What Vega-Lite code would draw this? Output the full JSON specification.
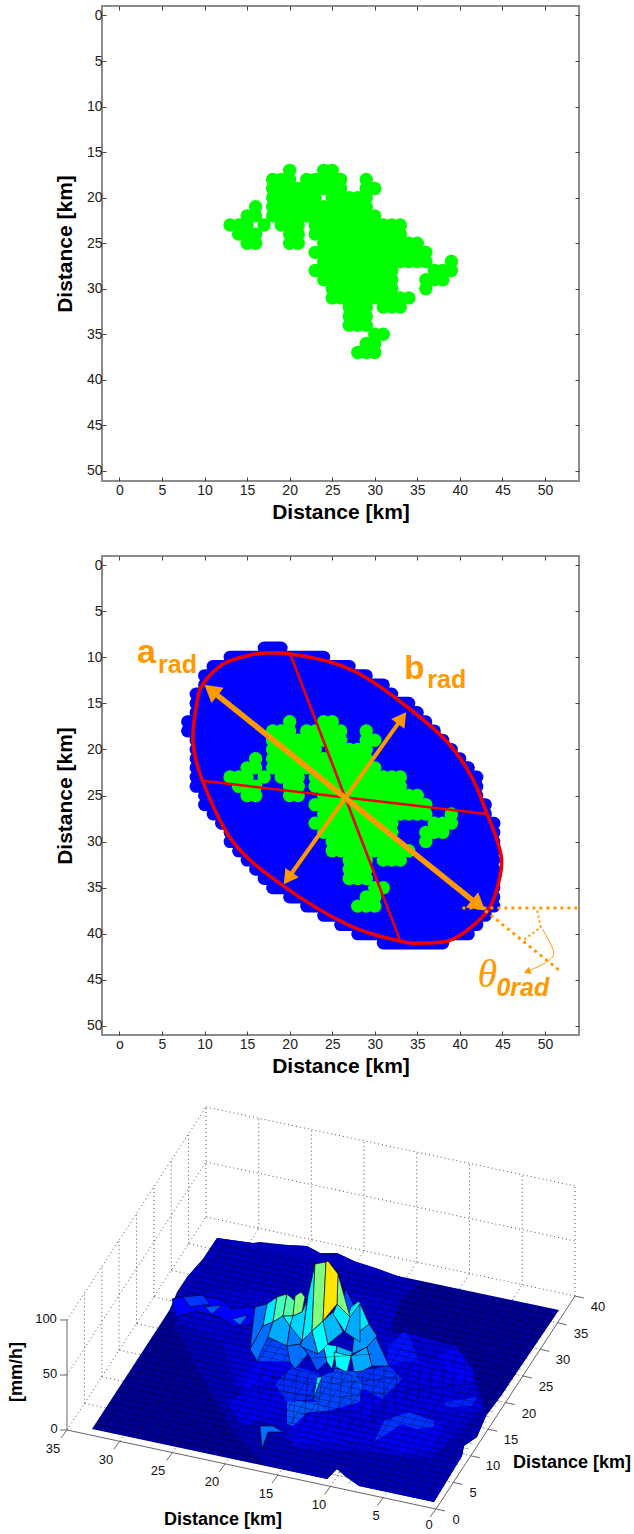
{
"$schema":"https://vega.github.io/schema/vega-lite/v6.json",
"background":"white",
"padding":{"left":0,"right":0,"top":4,"bottom":0},
"config":{"view":{"stroke":"#8c8c8c","strokeWidth":2},"font":"Liberation Sans"},
"datasets":{
"green":[
{"x":20,"y":17},{"x":24,"y":17},{"x":25,"y":17},
{"x":18,"y":18},{"x":19,"y":18},{"x":20,"y":18},{"x":22,"y":18},{"x":23,"y":18},{"x":24,"y":18},{"x":25,"y":18},{"x":26,"y":18},{"x":29,"y":18},
{"x":18,"y":19},{"x":19,"y":19},{"x":20,"y":19},{"x":21,"y":19},{"x":22,"y":19},{"x":23,"y":19},{"x":24,"y":19},{"x":25,"y":19},{"x":26,"y":19},{"x":29,"y":19},{"x":30,"y":19},
{"x":18,"y":20},{"x":19,"y":20},{"x":20,"y":20},{"x":21,"y":20},{"x":22,"y":20},{"x":23,"y":20},{"x":25,"y":20},{"x":26,"y":20},{"x":27,"y":20},{"x":28,"y":20},{"x":29,"y":20},
{"x":16,"y":21},{"x":18,"y":21},{"x":19,"y":21},{"x":20,"y":21},{"x":21,"y":21},{"x":22,"y":21},{"x":23,"y":21},{"x":24,"y":21},{"x":25,"y":21},{"x":26,"y":21},{"x":27,"y":21},{"x":28,"y":21},{"x":29,"y":21},
{"x":15,"y":22},{"x":16,"y":22},{"x":18,"y":22},{"x":19,"y":22},{"x":20,"y":22},{"x":21,"y":22},{"x":22,"y":22},{"x":23,"y":22},{"x":24,"y":22},{"x":25,"y":22},{"x":26,"y":22},{"x":27,"y":22},{"x":28,"y":22},{"x":29,"y":22},{"x":30,"y":22},
{"x":13,"y":23},{"x":14,"y":23},{"x":15,"y":23},{"x":17,"y":23},{"x":19,"y":23},{"x":20,"y":23},{"x":21,"y":23},{"x":23,"y":23},{"x":24,"y":23},{"x":25,"y":23},{"x":26,"y":23},{"x":27,"y":23},{"x":28,"y":23},{"x":29,"y":23},{"x":30,"y":23},{"x":31,"y":23},{"x":32,"y":23},{"x":33,"y":23},
{"x":14,"y":24},{"x":15,"y":24},{"x":16,"y":24},{"x":20,"y":24},{"x":21,"y":24},{"x":23,"y":24},{"x":24,"y":24},{"x":25,"y":24},{"x":26,"y":24},{"x":27,"y":24},{"x":28,"y":24},{"x":29,"y":24},{"x":30,"y":24},{"x":31,"y":24},{"x":32,"y":24},{"x":33,"y":24},
{"x":15,"y":25},{"x":16,"y":25},{"x":20,"y":25},{"x":21,"y":25},{"x":24,"y":25},{"x":25,"y":25},{"x":26,"y":25},{"x":27,"y":25},{"x":28,"y":25},{"x":29,"y":25},{"x":30,"y":25},{"x":31,"y":25},{"x":32,"y":25},{"x":33,"y":25},{"x":34,"y":25},{"x":35,"y":25},
{"x":23,"y":26},{"x":24,"y":26},{"x":25,"y":26},{"x":26,"y":26},{"x":27,"y":26},{"x":28,"y":26},{"x":29,"y":26},{"x":30,"y":26},{"x":31,"y":26},{"x":32,"y":26},{"x":33,"y":26},{"x":34,"y":26},{"x":35,"y":26},{"x":36,"y":26},
{"x":24,"y":27},{"x":25,"y":27},{"x":26,"y":27},{"x":27,"y":27},{"x":28,"y":27},{"x":29,"y":27},{"x":30,"y":27},{"x":31,"y":27},{"x":32,"y":27},{"x":33,"y":27},{"x":34,"y":27},{"x":35,"y":27},{"x":36,"y":27},{"x":39,"y":27},
{"x":23,"y":28},{"x":24,"y":28},{"x":25,"y":28},{"x":26,"y":28},{"x":27,"y":28},{"x":28,"y":28},{"x":29,"y":28},{"x":30,"y":28},{"x":31,"y":28},{"x":32,"y":28},{"x":37,"y":28},{"x":38,"y":28},{"x":39,"y":28},
{"x":24,"y":29},{"x":25,"y":29},{"x":26,"y":29},{"x":27,"y":29},{"x":28,"y":29},{"x":29,"y":29},{"x":30,"y":29},{"x":31,"y":29},{"x":32,"y":29},{"x":36,"y":29},{"x":37,"y":29},{"x":38,"y":29},
{"x":25,"y":30},{"x":26,"y":30},{"x":27,"y":30},{"x":28,"y":30},{"x":29,"y":30},{"x":30,"y":30},{"x":31,"y":30},{"x":32,"y":30},{"x":36,"y":30},
{"x":25,"y":31},{"x":26,"y":31},{"x":27,"y":31},{"x":28,"y":31},{"x":29,"y":31},{"x":30,"y":31},{"x":31,"y":31},{"x":32,"y":31},{"x":33,"y":31},{"x":34,"y":31},
{"x":27,"y":32},{"x":28,"y":32},{"x":29,"y":32},{"x":31,"y":32},{"x":32,"y":32},{"x":33,"y":32},
{"x":27,"y":33},{"x":28,"y":33},{"x":29,"y":33},
{"x":27,"y":34},{"x":28,"y":34},{"x":29,"y":34},
{"x":30,"y":35},{"x":31,"y":35},
{"x":29,"y":36},{"x":30,"y":36},
{"x":28,"y":37},{"x":29,"y":37},{"x":30,"y":37}
],
"grid3d":[
{"x":383.3,"y":1498.7,"x2":522.3,"y2":1285.7},{"x":330.6,"y":1487.4,"x2":469.6,"y2":1274.4},{"x":277.9,"y":1476.1,"x2":416.9,"y2":1263.1},{"x":225.2,"y":1464.8,"x2":364.2,"y2":1251.8},{"x":172.5,"y":1453.5,"x2":311.5,"y2":1240.5},{"x":119.8,"y":1442.2,"x2":258.8,"y2":1229.2},{"x":67,"y":1431,"x2":206,"y2":1218},
{"x":453.4,"y":1483.4,"x2":84.4,"y2":1404.4},{"x":470.8,"y":1456.8,"x2":101.8,"y2":1377.8},{"x":488.2,"y":1430.2,"x2":119.2,"y2":1351.2},{"x":505.6,"y":1403.6,"x2":136.6,"y2":1324.6},{"x":523,"y":1377,"x2":154,"y2":1298},{"x":540.4,"y":1350.4,"x2":171.4,"y2":1271.4},{"x":557.8,"y":1323.8,"x2":188.8,"y2":1244.8},{"x":575,"y":1297,"x2":206,"y2":1218},
{"x":206,"y":1218,"x2":206,"y2":1108},{"x":258.7,"y":1229.3,"x2":258.7,"y2":1119.3},{"x":311.4,"y":1240.6,"x2":311.4,"y2":1130.6},{"x":364.1,"y":1251.9,"x2":364.1,"y2":1141.9},{"x":416.8,"y":1263.2,"x2":416.8,"y2":1153.2},{"x":469.5,"y":1274.5,"x2":469.5,"y2":1164.5},{"x":522.2,"y":1285.8,"x2":522.2,"y2":1175.8},{"x":575,"y":1297,"x2":575,"y2":1187},
{"x":206,"y":1163,"x2":575,"y2":1242},{"x":206,"y":1108,"x2":575,"y2":1187},
{"x":84.4,"y":1404.4,"x2":84.4,"y2":1294.4},{"x":101.8,"y":1377.8,"x2":101.8,"y2":1267.8},{"x":119.1,"y":1351.2,"x2":119.1,"y2":1241.2},{"x":136.5,"y":1324.6,"x2":136.5,"y2":1214.6},{"x":153.9,"y":1298,"x2":153.9,"y2":1188},{"x":171.3,"y":1271.4,"x2":171.3,"y2":1161.4},{"x":188.6,"y":1244.8,"x2":188.6,"y2":1134.8},
{"x":67,"y":1376,"x2":206,"y2":1163},{"x":67,"y":1321,"x2":206,"y2":1108}
],
"axes3d":[
{"x":67,"y":1431,"x2":436,"y2":1510},{"x":436,"y":1510,"x2":575,"y2":1297},{"x":67,"y":1431,"x2":67,"y2":1321},
{"x":436,"y":1510,"x2":430,"y2":1518},{"x":383.3,"y":1498.7,"x2":377.3,"y2":1506.7},{"x":330.6,"y":1487.4,"x2":324.6,"y2":1495.4},{"x":277.9,"y":1476.1,"x2":271.9,"y2":1484.1},{"x":225.2,"y":1464.8,"x2":219.2,"y2":1472.8},{"x":172.5,"y":1453.5,"x2":166.5,"y2":1461.5},{"x":119.8,"y":1442.2,"x2":113.8,"y2":1450.2},{"x":67,"y":1431,"x2":61,"y2":1439},
{"x":436,"y":1510,"x2":445,"y2":1512},{"x":453.4,"y":1483.4,"x2":462.4,"y2":1485.4},{"x":470.8,"y":1456.8,"x2":479.8,"y2":1458.8},{"x":488.2,"y":1430.2,"x2":497.2,"y2":1432.2},{"x":505.6,"y":1403.6,"x2":514.6,"y2":1405.6},{"x":523,"y":1377,"x2":532,"y2":1379},{"x":540.4,"y":1350.4,"x2":549.4,"y2":1352.4},{"x":557.8,"y":1323.8,"x2":566.8,"y2":1325.8},{"x":575,"y":1297,"x2":584,"y2":1299},
{"x":67,"y":1431,"x2":60,"y2":1431},{"x":67,"y":1376,"x2":60,"y2":1376},{"x":67,"y":1321,"x2":60,"y2":1321}
],
"mesh":[
{"x":102.7,"y":1432.3,"x2":227.7,"y2":1241.3},{"x":113.4,"y":1434.6,"x2":238.4,"y2":1243.6},{"x":124.1,"y":1436.8,"x2":249.1,"y2":1245.8},{"x":134.8,"y":1439.1,"x2":259.8,"y2":1248.1},{"x":145.4,"y":1441.4,"x2":270.4,"y2":1250.4},{"x":156.1,"y":1443.7,"x2":281.1,"y2":1252.7},{"x":166.8,"y":1446,"x2":291.8,"y2":1255},{"x":177.5,"y":1448.2,"x2":302.5,"y2":1257.2},{"x":188.2,"y":1450.5,"x2":313.2,"y2":1259.5},{"x":198.9,"y":1452.8,"x2":323.9,"y2":1261.8},{"x":209.6,"y":1455.1,"x2":334.6,"y2":1264.1},{"x":220.3,"y":1457.4,"x2":345.3,"y2":1266.4},{"x":231,"y":1459.6,"x2":356,"y2":1268.6},{"x":241.7,"y":1461.9,"x2":366.7,"y2":1270.9},{"x":252.3,"y":1464.2,"x2":377.3,"y2":1273.2},{"x":263,"y":1466.5,"x2":388,"y2":1275.5},{"x":273.7,"y":1468.8,"x2":398.7,"y2":1277.8},{"x":284.4,"y":1471,"x2":409.4,"y2":1280},{"x":295.1,"y":1473.3,"x2":420.1,"y2":1282.3},{"x":305.8,"y":1475.6,"x2":430.8,"y2":1284.6},{"x":316.5,"y":1477.9,"x2":441.5,"y2":1286.9},{"x":327.2,"y":1480.2,"x2":452.2,"y2":1289.2},{"x":369.9,"y":1489.3,"x2":494.9,"y2":1298.3},{"x":380.6,"y":1491.6,"x2":505.6,"y2":1300.6},{"x":391.3,"y":1493.8,"x2":516.3,"y2":1302.8},{"x":402,"y":1496.1,"x2":527,"y2":1305.1},{"x":412.7,"y":1498.4,"x2":537.7,"y2":1307.4},{"x":423.4,"y":1500.7,"x2":548.4,"y2":1309.7},{"x":359.2,"y":1487,"x2":484.2,"y2":1296},{"x":348.6,"y":1484.7,"x2":473.6,"y2":1293.7},{"x":337.9,"y":1475,"x2":462.9,"y2":1291.4},
{"x":95.5,"y":1424.7,"x2":437.5,"y2":1497.7},{"x":98.9,"y":1419.4,"x2":440.9,"y2":1492.4},{"x":102.4,"y":1414.1,"x2":444.4,"y2":1487.1},{"x":105.9,"y":1408.8,"x2":447.9,"y2":1481.8},{"x":109.4,"y":1403.5,"x2":451.4,"y2":1476.5},{"x":112.8,"y":1398.1,"x2":454.8,"y2":1471.1},{"x":116.3,"y":1392.8,"x2":458.3,"y2":1465.8},{"x":119.8,"y":1387.5,"x2":461.8,"y2":1460.5},{"x":123.2,"y":1382.2,"x2":465.2,"y2":1455.2},{"x":126.7,"y":1376.9,"x2":468.7,"y2":1449.9},{"x":130.2,"y":1371.6,"x2":472.2,"y2":1444.6},{"x":133.6,"y":1366.3,"x2":475.6,"y2":1439.3},{"x":137.1,"y":1361,"x2":479.1,"y2":1434},{"x":140.6,"y":1355.7,"x2":482.6,"y2":1428.7},{"x":144.1,"y":1350.4,"x2":486.1,"y2":1423.4},{"x":147.5,"y":1345,"x2":489.5,"y2":1418},{"x":151,"y":1339.7,"x2":493,"y2":1412.7},{"x":154.5,"y":1334.4,"x2":496.5,"y2":1407.4},{"x":157.9,"y":1329.1,"x2":499.9,"y2":1402.1},{"x":161.4,"y":1323.8,"x2":503.4,"y2":1396.8},{"x":164.9,"y":1318.5,"x2":506.9,"y2":1391.5},{"x":168.3,"y":1313.2,"x2":510.3,"y2":1386.2},{"x":171.8,"y":1307.9,"x2":513.8,"y2":1380.9},{"x":175.3,"y":1302.6,"x2":517.3,"y2":1375.6},{"x":178.8,"y":1297.3,"x2":520.8,"y2":1370.3},{"x":182.2,"y":1291.9,"x2":524.2,"y2":1364.9},{"x":185.7,"y":1286.6,"x2":527.7,"y2":1359.6},{"x":189.2,"y":1281.3,"x2":531.2,"y2":1354.3},{"x":192.6,"y":1276,"x2":534.6,"y2":1349},{"x":196.1,"y":1270.7,"x2":538.1,"y2":1343.7},{"x":199.6,"y":1265.4,"x2":541.6,"y2":1338.4},{"x":203,"y":1260.1,"x2":545,"y2":1333.1},{"x":206.5,"y":1254.8,"x2":548.5,"y2":1327.8},{"x":210,"y":1249.5,"x2":552,"y2":1322.5},{"x":213.5,"y":1244.2,"x2":555.5,"y2":1317.2}
],
"ribs":[
{"x":258,"y":1396,"x2":264,"y2":1364},{"x":270,"y":1400,"x2":275,"y2":1364},{"x":282,"y":1402,"x2":286,"y2":1366},{"x":293,"y":1425,"x2":297,"y2":1372},{"x":304,"y":1425,"x2":308,"y2":1375},{"x":316,"y":1425,"x2":322,"y2":1380},{"x":327,"y":1430,"x2":332,"y2":1375},{"x":338,"y":1430,"x2":342,"y2":1372},{"x":350,"y":1430,"x2":352,"y2":1375},{"x":361,"y":1430,"x2":363,"y2":1375},{"x":372,"y":1425,"x2":374,"y2":1368},{"x":384,"y":1420,"x2":384,"y2":1368},{"x":395,"y":1410,"x2":397,"y2":1370},{"x":407,"y":1408,"x2":409,"y2":1364},{"x":418,"y":1405,"x2":420,"y2":1364},{"x":430,"y":1400,"x2":432,"y2":1362},{"x":442,"y":1400,"x2":444,"y2":1362},{"x":453,"y":1395,"x2":455,"y2":1352},{"x":464,"y":1392,"x2":465,"y2":1360},
{"x":257,"y":1375,"x2":320,"y2":1385},{"x":250,"y":1388,"x2":320,"y2":1398},{"x":300,"y":1415,"x2":362,"y2":1412},{"x":330,"y":1385,"x2":400,"y2":1378},{"x":340,"y":1398,"x2":470,"y2":1385},{"x":400,"y":1350,"x2":470,"y2":1368},{"x":300,"y":1360,"x2":372,"y2":1355}
],
"low":[
{"v":3,"g":{"type":"Polygon","coordinates":[[[92,1430],[165,1318],[170,1310],[177,1293],[187,1278],[203,1260],[217,1239],[253,1244],[260,1243],[287,1246],[307,1247],[320,1254],[337,1254],[354,1262],[367,1270],[376,1269],[379,1273],[559,1311],[501,1397],[486,1417],[477,1438],[464,1447],[462,1457],[434,1503],[359,1487],[345,1477],[337,1470],[327,1480],[92,1430]]]}},
{"v":9,"g":{"type":"Polygon","coordinates":[[[217,1239],[253,1244],[287,1246],[307,1247],[320,1254],[337,1254],[354,1262],[376,1269],[420,1285],[400,1300],[340,1290],[290,1295],[230,1290],[178,1297],[187,1278],[203,1260],[217,1239]]]}},
{"v":12,"g":{"type":"Polygon","coordinates":[[[178,1297],[230,1290],[290,1295],[258,1320],[222,1342],[180,1325],[170,1310],[178,1297]]]}},
{"v":8,"g":{"type":"Polygon","coordinates":[[[172,1320],[222,1342],[250,1350],[330,1345],[389,1340],[407,1333],[425,1345],[440,1350],[457,1348],[472,1373],[484,1405],[486,1417],[477,1438],[464,1447],[462,1457],[434,1503],[359,1487],[345,1477],[337,1470],[327,1480],[265,1466],[237,1437],[200,1375],[172,1320]]]}},
{"v":11,"g":{"type":"Polygon","coordinates":[[[290,1295],[340,1290],[400,1300],[389,1340],[330,1345],[250,1350],[222,1342],[258,1320],[290,1295]]]}},
{"v":13,"g":{"type":"Polygon","coordinates":[[[222,1342],[250,1350],[330,1345],[407,1333],[457,1348],[472,1373],[482,1405],[462,1430],[430,1460],[360,1452],[300,1450],[265,1425],[235,1385],[222,1342]]]}},
{"v":19,"g":{"type":"Polygon","coordinates":[[[257,1362],[290,1363],[295,1370],[317,1372],[313,1400],[287,1403],[262,1395],[240,1385],[257,1362]]]}},
{"v":16,"g":{"type":"Polygon","coordinates":[[[227,1403],[257,1387],[293,1367],[317,1372],[313,1400],[287,1403],[273,1417],[243,1427],[227,1403]]]}},
{"v":25,"g":{"type":"Polygon","coordinates":[[[293,1367],[320,1375],[313,1400],[287,1403],[275,1385],[293,1367]]]}},
{"v":17,"g":{"type":"Polygon","coordinates":[[[293,1427],[308,1413],[327,1412],[360,1403],[360,1443],[333,1443],[313,1443],[293,1447],[293,1427]]]}},
{"v":15,"g":{"type":"Polygon","coordinates":[[[334,1410],[369,1417],[374,1443],[334,1443],[334,1410]]]}},
{"v":18,"g":{"type":"Polygon","coordinates":[[[389,1367],[419,1362],[440,1380],[430,1395],[402,1385],[389,1367]]]}},
{"v":16,"g":{"type":"Polygon","coordinates":[[[406,1362],[419,1362],[439,1358],[441,1363],[467,1387],[447,1397],[417,1387],[406,1362]]]}},
{"v":15,"g":{"type":"Polygon","coordinates":[[[389,1367],[406,1362],[417,1387],[447,1397],[470,1400],[486,1410],[472,1412],[430,1412],[400,1420],[382,1400],[402,1380],[389,1367]]]}},
{"v":17,"g":{"type":"Polygon","coordinates":[[[402,1425],[417,1430],[445,1420],[434,1450],[400,1455],[374,1443],[402,1425]]]}},
{"v":18,"g":{"type":"Polygon","coordinates":[[[334,1395],[347,1400],[364,1390],[382,1400],[369,1417],[334,1410],[334,1395]]]}},
{"v":26,"g":{"type":"Polygon","coordinates":[[[352,1373],[389,1367],[402,1380],[382,1400],[364,1390],[352,1373]]]}},
{"v":30,"g":{"type":"Polygon","coordinates":[[[334,1370],[354,1373],[364,1390],[347,1400],[334,1395],[334,1370]]]}},
{"v":30,"g":{"type":"Polygon","coordinates":[[[287,1403],[300,1402],[317,1403],[327,1412],[308,1413],[293,1427],[287,1425],[287,1403]]]}},
{"v":28,"g":{"type":"Polygon","coordinates":[[[313,1400],[320,1377],[337,1372],[347,1370],[360,1387],[360,1403],[327,1412],[317,1403],[313,1400]]]}},
{"v":22,"g":{"type":"Polygon","coordinates":[[[387,1347],[404,1333],[409,1337],[419,1362],[406,1362],[389,1367],[387,1347]]]}},
{"v":20,"g":{"type":"Polygon","coordinates":[[[439,1358],[451,1348],[462,1355],[474,1373],[466,1393],[441,1363],[439,1358]]]}},
{"v":24,"g":{"type":"Polygon","coordinates":[[[444,1403],[477,1398],[472,1407],[447,1408],[444,1403]]]}},
{"v":26,"g":{"type":"Polygon","coordinates":[[[384,1422],[409,1413],[434,1422],[434,1428],[417,1430],[402,1425],[374,1443],[384,1422]]]}},
{"v":28,"g":{"type":"Polygon","coordinates":[[[250,1350],[268,1338],[287,1347],[290,1363],[267,1362],[257,1362],[250,1350]]]}}
],
"hills":[
{"v":20,"g":{"type":"Polygon","coordinates":[[[172,1300],[190,1295],[220,1300],[232,1310],[250,1308],[258,1312],[250,1325],[235,1328],[220,1318],[195,1312],[176,1318],[172,1300]]]}},
{"v":26,"g":{"type":"Polygon","coordinates":[[[183,1298],[203,1296],[210,1305],[190,1308],[183,1298]]]}},
{"v":30,"g":{"type":"Polygon","coordinates":[[[205,1308],[222,1306],[212,1315],[205,1308]]]}},
{"v":33,"g":{"type":"Polygon","coordinates":[[[232,1320],[248,1316],[240,1326],[232,1320]]]}},
{"v":47,"g":{"type":"Polygon","coordinates":[[[313,1400],[322,1378],[317,1378],[315,1390],[313,1400]]]}},
{"v":33,"g":{"type":"Polygon","coordinates":[[[260,1427],[273,1427],[283,1433],[268,1433],[262,1450],[260,1427]]]}},
{"v":33,"g":{"type":"Polygon","coordinates":[[[287,1347],[300,1345],[308,1355],[295,1370],[290,1363],[287,1347]]]}},
{"v":30,"g":{"type":"Polygon","coordinates":[[[300,1345],[318,1355],[323,1345],[327,1363],[317,1372],[308,1355],[300,1345]]]}},
{"v":50,"g":{"type":"Polygon","coordinates":[[[323,1345],[337,1347],[332,1370],[327,1363],[323,1345]]]}},
{"v":42,"g":{"type":"Polygon","coordinates":[[[337,1347],[353,1353],[345,1367],[335,1370],[337,1347]]]}},
{"v":50,"g":{"type":"Polygon","coordinates":[[[334,1353],[351,1357],[347,1373],[336,1368],[334,1353]]]}},
{"v":40,"g":{"type":"Polygon","coordinates":[[[351,1357],[367,1348],[372,1367],[362,1372],[354,1373],[351,1357]]]}},
{"v":34,"g":{"type":"Polygon","coordinates":[[[367,1348],[376,1338],[389,1367],[372,1367],[367,1348]]]}},
{"v":28,"g":{"type":"Polygon","coordinates":[[[346,1290],[364,1327],[352,1340],[340,1310],[346,1290]]]}},
{"v":38,"g":{"type":"Polygon","coordinates":[[[354,1337],[369,1325],[377,1337],[367,1348],[352,1355],[354,1337]]]}},
{"v":47,"g":{"type":"Polygon","coordinates":[[[351,1308],[359,1302],[369,1325],[354,1337],[346,1323],[351,1308]]]}},
{"v":40,"g":{"type":"Polygon","coordinates":[[[350,1318],[360,1305],[360,1343],[345,1333],[350,1318]]]}},
{"v":35,"g":{"type":"Polygon","coordinates":[[[302,1342],[312,1332],[318,1355],[300,1347],[302,1342]]]}},
{"v":50,"g":{"type":"Polygon","coordinates":[[[312,1332],[323,1322],[328,1345],[318,1355],[312,1332]]]}},
{"v":42,"g":{"type":"Polygon","coordinates":[[[323,1322],[333,1313],[343,1333],[328,1345],[323,1322]]]}},
{"v":48,"g":{"type":"Polygon","coordinates":[[[337,1305],[350,1318],[345,1333],[333,1315],[337,1305]]]}},
{"v":33,"g":{"type":"Polygon","coordinates":[[[255,1308],[267,1305],[263,1327],[250,1350],[255,1308]]]}},
{"v":47,"g":{"type":"Polygon","coordinates":[[[267,1305],[277,1298],[273,1323],[263,1327],[267,1305]]]}},
{"v":58,"g":{"type":"Polygon","coordinates":[[[277,1298],[287,1295],[283,1317],[273,1323],[277,1298]]]}},
{"v":60,"g":{"type":"Polygon","coordinates":[[[287,1295],[295,1302],[293,1317],[283,1317],[287,1295]]]}},
{"v":65,"g":{"type":"Polygon","coordinates":[[[295,1297],[301,1293],[305,1298],[302,1313],[293,1317],[295,1297]]]}},
{"v":33,"g":{"type":"Polygon","coordinates":[[[250,1350],[263,1327],[273,1323],[268,1338],[257,1362],[250,1350]]]}},
{"v":40,"g":{"type":"Polygon","coordinates":[[[273,1323],[283,1317],[290,1327],[287,1347],[268,1338],[273,1323]]]}},
{"v":50,"g":{"type":"Polygon","coordinates":[[[283,1317],[293,1317],[290,1327],[283,1317]]]}},
{"v":35,"g":{"type":"Polygon","coordinates":[[[290,1327],[302,1340],[300,1345],[287,1347],[290,1327]]]}},
{"v":45,"g":{"type":"Polygon","coordinates":[[[293,1317],[302,1313],[307,1302],[302,1342],[290,1327],[293,1317]]]}},
{"v":48,"g":{"type":"Polygon","coordinates":[[[308,1297],[315,1265],[312,1332],[302,1342],[308,1297]]]}},
{"v":65,"g":{"type":"Polygon","coordinates":[[[315,1265],[326,1263],[323,1322],[312,1332],[315,1265]]]}},
{"v":65,"g":{"type":"Polygon","coordinates":[[[338,1275],[350,1318],[337,1305],[338,1275]]]}},
{"v":80,"g":{"type":"Polygon","coordinates":[[[326,1263],[328,1262],[338,1275],[337,1305],[323,1322],[326,1263]]]}}
]
},
"spacing":26,
"vconcat":[
{"spacing":52,"hconcat":[
{"width":1,"height":1,"view":{"stroke":null},"data":{"values":[{"x":0}]},"mark":{"type":"point","opacity":0,"size":0},"encoding":{}},
{"spacing":31,"vconcat":[
{"width":477,"height":475,
 "encoding":{"x":{"field":"x","type":"quantitative","scale":{"domain":[-2.05,54],"nice":false,"zero":false},"axis":null},"y":{"field":"y","type":"quantitative","scale":{"domain":[51.1,-1.04],"nice":false,"zero":false},"axis":null}},
 "layer":[
  {"data":{"name":"green"},"mark":{"type":"circle","size":180,"color":"#00ff00","opacity":1},
   "encoding":{
    "x":{"field":"x","type":"quantitative","scale":{"domain":[-2.05,54],"nice":false,"zero":false},"axis":{"orient":"bottom","values":[0,5,10,15,20,25,30,35,40,45,50],"grid":false,"domain":false,"tickSize":-4,"tickColor":"#444","labelFontSize":14,"labelFont":"Liberation Sans","labelColor":"#222","labelPadding":6,"title":"Distance [km]","titleFont":"Liberation Sans","titleFontSize":21,"titleFontWeight":"bold","titleColor":"#000","titlePadding":4}},
    "y":{"field":"y","type":"quantitative","scale":{"domain":[51.1,-1.04],"nice":false,"zero":false},"axis":{"orient":"left","values":[0,5,10,15,20,25,30,35,40,45,50],"grid":false,"domain":false,"tickSize":-4,"tickColor":"#444","labelFontSize":14,"labelFont":"Liberation Sans","labelColor":"#222","labelPadding":4,"title":"Distance [km]","titleFont":"Liberation Sans","titleFontSize":21,"titleFontWeight":"bold","titleColor":"#000","titlePadding":11}}}},
  {"data":{"values":[{"x":0,"y":0}]},"mark":{"type":"circle","opacity":0},
   "encoding":{
    "x":{"field":"x","type":"quantitative","scale":{"domain":[-2.05,54],"nice":false,"zero":false},"axis":{"orient":"top","values":[0,5,10,15,20,25,30,35,40,45,50],"grid":false,"domain":false,"tickSize":-4,"tickColor":"#444","labels":false,"title":null}},
    "y":{"field":"y","type":"quantitative","scale":{"domain":[51.1,-1.04],"nice":false,"zero":false},"axis":{"orient":"right","values":[0,5,10,15,20,25,30,35,40,45,50],"grid":false,"domain":false,"tickSize":-4,"tickColor":"#444","labels":false,"title":null}}}}
 ],
 "resolve":{"axis":{"x":"independent","y":"independent"}}
},
{"width":477,"height":479,
 "encoding":{"x":{"field":"x","type":"quantitative","scale":{"domain":[-2.05,54],"nice":false,"zero":false},"axis":null},"y":{"field":"y","type":"quantitative","scale":{"domain":[50.98,-0.98],"nice":false,"zero":false},"axis":null}},
 "layer":[
  {"data":{"values":[
   {"y":9,"x":17,"x2":19},{"y":10,"x":13,"x2":24},{"y":11,"x":11,"x2":27},{"y":12,"x":10,"x2":29},{"y":13,"x":10,"x2":31},{"y":14,"x":9,"x2":32},{"y":15,"x":9,"x2":34},{"y":16,"x":9,"x2":35},{"y":17,"x":8,"x2":36},{"y":18,"x":8,"x2":37},{"y":19,"x":9,"x2":38},{"y":20,"x":9,"x2":39},{"y":21,"x":9,"x2":40},{"y":22,"x":9,"x2":41},{"y":23,"x":9,"x2":42},{"y":24,"x":9,"x2":42},{"y":25,"x":10,"x2":42},{"y":26,"x":10,"x2":43},{"y":27,"x":11,"x2":43},{"y":28,"x":12,"x2":44},{"y":29,"x":13,"x2":44},{"y":30,"x":13,"x2":44},{"y":31,"x":14,"x2":44},{"y":32,"x":15,"x2":44},{"y":33,"x":16,"x2":44},{"y":34,"x":17,"x2":44},{"y":35,"x":18,"x2":44},{"y":36,"x":20,"x2":44},{"y":37,"x":22,"x2":44},{"y":38,"x":24,"x2":43},{"y":39,"x":26,"x2":42},{"y":40,"x":28,"x2":41},{"y":41,"x":31,"x2":38}
  ]},"mark":{"type":"rule","color":"#0000ff","strokeWidth":13,"strokeCap":"round"},
   "encoding":{
    "x":{"field":"x","type":"quantitative","scale":{"domain":[-2.05,54],"nice":false,"zero":false},"axis":{"orient":"bottom","values":[0,5,10,15,20,25,30,35,40,45,50],"labelExpr":"datum.value==0?'o':datum.label","grid":false,"domain":false,"tickSize":-4,"tickColor":"#444","labelFontSize":14,"labelFont":"Liberation Sans","labelColor":"#222","labelPadding":6,"title":"Distance [km]","titleFont":"Liberation Sans","titleFontSize":21,"titleFontWeight":"bold","titleColor":"#000","titlePadding":4}},
    "x2":{"field":"x2"},
    "y":{"field":"y","type":"quantitative","scale":{"domain":[50.98,-0.98],"nice":false,"zero":false},"axis":{"orient":"left","values":[0,5,10,15,20,25,30,35,40,45,50],"grid":false,"domain":false,"tickSize":-4,"tickColor":"#444","labelFontSize":14,"labelFont":"Liberation Sans","labelColor":"#222","labelPadding":4,"title":"Distance [km]","titleFont":"Liberation Sans","titleFontSize":21,"titleFontWeight":"bold","titleColor":"#000","titlePadding":11}}}},
  {"data":{"values":[{"x":0,"y":0}]},"mark":{"type":"circle","opacity":0},
   "encoding":{
    "x":{"field":"x","type":"quantitative","scale":{"domain":[-2.05,54],"nice":false,"zero":false},"axis":{"orient":"top","values":[0,5,10,15,20,25,30,35,40,45,50],"grid":false,"domain":false,"tickSize":-4,"tickColor":"#444","labels":false,"title":null}},
    "y":{"field":"y","type":"quantitative","scale":{"domain":[50.98,-0.98],"nice":false,"zero":false},"axis":{"orient":"right","values":[0,5,10,15,20,25,30,35,40,45,50],"grid":false,"domain":false,"tickSize":-4,"tickColor":"#444","labels":false,"title":null}}}},
  {"data":{"name":"green"},"mark":{"type":"circle","size":180,"color":"#00ff00","opacity":1}},
  {"data":{"values":[{"x":20.06,"y":9.65,"x2":33,"y2":40.8},{"x":9.82,"y":23.4,"x2":43.2,"y2":27}]},"mark":{"type":"rule","color":"#ee0000","strokeWidth":2.6},"encoding":{"x2":{"field":"x2"},"y2":{"field":"y2"}}},
  {"data":{"values":[{"o":1,"x":17.7,"y":9.54},{"o":2,"x":20.06,"y":9.65},{"o":3,"x":24.76,"y":10.52},{"o":4,"x":28.65,"y":12.04},{"o":5,"x":33.82,"y":15.4},{"o":6,"x":38.53,"y":19.2},{"o":7,"x":41.4,"y":23},{"o":8,"x":43.2,"y":27},{"o":9,"x":44.2,"y":29.4},{"o":10,"x":44.9,"y":31.9},{"o":11,"x":44.55,"y":34.4},{"o":12,"x":43.24,"y":37.53},{"o":13,"x":39.24,"y":40.56},{"o":14,"x":35.35,"y":41},{"o":15,"x":33,"y":40.8},{"o":16,"x":27.12,"y":39.15},{"o":17,"x":19.24,"y":34.8},{"o":18,"x":13.35,"y":30.04},{"o":19,"x":9.82,"y":23.54},{"o":20,"x":8.65,"y":19.2},{"o":21,"x":9.12,"y":14.86},{"o":22,"x":9.82,"y":12.9},{"o":23,"x":12.18,"y":10.74},{"o":24,"x":15.35,"y":9.76}]},"mark":{"type":"line","color":"#ee0000","strokeWidth":3.6,"interpolate":"cardinal-closed"},"encoding":{"order":{"field":"o"}}},
  {"data":{"values":[{"x":10.76,"y":13.56,"x2":42.2,"y2":36.9}]},"mark":{"type":"rule","color":"#ff9900","strokeWidth":5.5},"encoding":{"x2":{"field":"x2"},"y2":{"field":"y2"}}},
  {"data":{"values":[{"x":33.2,"y":16.6,"x2":19.8,"y2":34}]},"mark":{"type":"rule","color":"#ff9900","strokeWidth":4},"encoding":{"x2":{"field":"x2"},"y2":{"field":"y2"}}},
  {"data":{"values":[{"x":10.76,"y":13.56,"a":309},{"x":42.2,"y":36.9,"a":129}]},"mark":{"type":"point","shape":"triangle-up","filled":true,"color":"#ff9900","opacity":1,"size":380},"encoding":{"angle":{"field":"a","type":"quantitative","scale":null}}},
  {"data":{"values":[{"x":33.2,"y":16.6,"a":36},{"x":19.8,"y":34,"a":215}]},"mark":{"type":"point","shape":"triangle-up","filled":true,"color":"#ff9900","opacity":1,"size":270},"encoding":{"angle":{"field":"a","type":"quantitative","scale":null}}},
  {"data":{"values":[{"x":40.3,"y":37.2,"x2":53.8,"y2":37.2},{"x":43,"y":37.5,"x2":51.6,"y2":43.9}]},"mark":{"type":"rule","color":"#ff9900","strokeWidth":3,"strokeDash":[3,4]},"encoding":{"x2":{"field":"x2"},"y2":{"field":"y2"}}},
  {"data":{"values":[{"o":1,"x":49.1,"y":37.5},{"o":2,"x":49.5,"y":39.3},{"o":3,"x":47.3,"y":40.8}]},"mark":{"type":"line","color":"#ff9900","strokeWidth":2.2,"strokeDash":[2,3]},"encoding":{"order":{"field":"o"}}},
  {"data":{"values":[{"o":1,"x":49.7,"y":39.5},{"o":2,"x":51,"y":41.9},{"o":3,"x":50.3,"y":43},{"o":4,"x":47.9,"y":44.1}]},"mark":{"type":"line","color":"#ff9900","strokeWidth":1,"interpolate":"cardinal"},"encoding":{"order":{"field":"o"}}},
  {"data":{"values":[{"x":47.9,"y":44.1,"a":250}]},"mark":{"type":"point","shape":"triangle-up","filled":true,"color":"#ff9900","opacity":1,"size":60},"encoding":{"angle":{"field":"a","type":"quantitative","scale":null}}},
  {"data":{"values":[{"t":"a","x":2.07,"y":10.63}]},"mark":{"type":"text","font":"Liberation Sans","fontWeight":"bold","fontSize":34,"color":"#ff9900","align":"left","baseline":"alphabetic"},"encoding":{"text":{"field":"t"}}},
  {"data":{"values":[{"t":"b","x":33.47,"y":12.36}]},"mark":{"type":"text","font":"Liberation Sans","fontWeight":"bold","fontSize":33,"color":"#ff9900","align":"left","baseline":"alphabetic"},"encoding":{"text":{"field":"t"}}},
  {"data":{"values":[{"t":"rad","x":4.53,"y":11.71},{"t":"rad","x":36.18,"y":13.34}]},"mark":{"type":"text","font":"Liberation Sans","fontWeight":"bold","fontSize":25,"color":"#ff9900","align":"left","baseline":"alphabetic"},"encoding":{"text":{"field":"t"}}},
  {"data":{"values":[{"t":"θ","x":42.06,"y":45.77}]},"mark":{"type":"text","font":"Liberation Serif","fontStyle":"italic","fontSize":40,"color":"#ff9900","align":"left","baseline":"alphabetic"},"encoding":{"text":{"field":"t"}}},
  {"data":{"values":[{"t":"0rad","x":44.3,"y":46.75}]},"mark":{"type":"text","font":"Liberation Sans","fontWeight":"bold","fontStyle":"italic","fontSize":25,"color":"#ff9900","align":"left","baseline":"alphabetic"},"encoding":{"text":{"field":"t"}}}
 ],
 "resolve":{"axis":{"x":"independent","y":"independent"}}
}
]}
]},
{"width":634,"height":430,"view":{"stroke":null},
 "layer":[
  {"data":{"name":"grid3d"},"mark":{"type":"rule","color":"#555","strokeWidth":1,"strokeDash":[1,3]},"encoding":{"x":{"field":"x","type":"quantitative","scale":{"domain":[0,634],"nice":false,"zero":false},"axis":null},"x2":{"field":"x2"},"y":{"field":"y","type":"quantitative","scale":{"domain":[1534,1104],"nice":false,"zero":false},"axis":null},"y2":{"field":"y2"}}},
  {"data":{"name":"axes3d"},"mark":{"type":"rule","color":"#666","strokeWidth":1},"encoding":{"x":{"field":"x","type":"quantitative","scale":{"domain":[0,634],"nice":false,"zero":false},"axis":null},"x2":{"field":"x2"},"y":{"field":"y","type":"quantitative","scale":{"domain":[1534,1104],"nice":false,"zero":false},"axis":null},"y2":{"field":"y2"}}},
  {"data":{"name":"low"},"mark":{"type":"geoshape","stroke":null},"projection":{"type":"identity","scale":1,"translate":[0,-1104]},"encoding":{"shape":{"field":"g","type":"geojson"},"color":{"field":"v","type":"quantitative","scale":{"domain":[0,10,20,35,50,65,80],"range":["#000080","#0000c0","#0000ff","#0080ff","#00ffff","#80ff80","#ffe600"],"interpolate":"rgb"},"legend":null}}},
  {"data":{"name":"mesh"},"mark":{"type":"rule","color":"#000","strokeWidth":0.6,"opacity":0.55},"encoding":{"x":{"field":"x","type":"quantitative","scale":{"domain":[0,634],"nice":false,"zero":false},"axis":null},"x2":{"field":"x2"},"y":{"field":"y","type":"quantitative","scale":{"domain":[1534,1104],"nice":false,"zero":false},"axis":null},"y2":{"field":"y2"}}},
  {"data":{"name":"hills"},"mark":{"type":"geoshape","stroke":"#000","strokeWidth":0.6},"projection":{"type":"identity","scale":1,"translate":[0,-1104]},"encoding":{"shape":{"field":"g","type":"geojson"},"color":{"field":"v","type":"quantitative","scale":{"domain":[0,10,20,35,50,65,80],"range":["#000080","#0000c0","#0000ff","#0080ff","#00ffff","#80ff80","#ffe600"],"interpolate":"rgb"},"legend":null}}},
  {"data":{"name":"ribs"},"mark":{"type":"rule","color":"#000","strokeWidth":0.6,"opacity":0.6},"encoding":{"x":{"field":"x","type":"quantitative","scale":{"domain":[0,634],"nice":false,"zero":false},"axis":null},"x2":{"field":"x2"},"y":{"field":"y","type":"quantitative","scale":{"domain":[1534,1104],"nice":false,"zero":false},"axis":null},"y2":{"field":"y2"}}},
  {"data":{"values":[{"t":"0","x":429,"y":1526},{"t":"5","x":376,"y":1517},{"t":"10","x":319,"y":1506},{"t":"15","x":266,"y":1495},{"t":"20","x":212,"y":1483},{"t":"25","x":158,"y":1472},{"t":"30","x":106,"y":1461},{"t":"35","x":53,"y":1450},{"t":"0","x":456,"y":1521},{"t":"5","x":473,"y":1494},{"t":"10","x":493,"y":1467},{"t":"15","x":511,"y":1441},{"t":"20","x":529,"y":1415},{"t":"25","x":546,"y":1388},{"t":"30","x":563,"y":1361},{"t":"35","x":581,"y":1335},{"t":"40","x":598,"y":1308},{"t":"100","x":46,"y":1320},{"t":"50","x":50,"y":1375},{"t":"0","x":54,"y":1430}]},"mark":{"type":"text","font":"Liberation Sans","fontSize":13,"color":"#111"},"encoding":{"x":{"field":"x","type":"quantitative","scale":{"domain":[0,634],"nice":false,"zero":false},"axis":null},"y":{"field":"y","type":"quantitative","scale":{"domain":[1534,1104],"nice":false,"zero":false},"axis":null},"text":{"field":"t"}}},
  {"data":{"values":[{"t":"Distance [km]","x":223,"y":1521},{"t":"Distance [km]","x":572,"y":1464}]},"mark":{"type":"text","font":"Liberation Sans","fontWeight":"bold","fontSize":18,"color":"#000"},"encoding":{"x":{"field":"x","type":"quantitative","scale":{"domain":[0,634],"nice":false,"zero":false},"axis":null},"y":{"field":"y","type":"quantitative","scale":{"domain":[1534,1104],"nice":false,"zero":false},"axis":null},"text":{"field":"t"}}},
  {"data":{"values":[{"t":"[mm/h]","x":17,"y":1373}]},"mark":{"type":"text","font":"Liberation Sans","fontWeight":"bold","fontSize":18,"color":"#000","angle":270},"encoding":{"x":{"field":"x","type":"quantitative","scale":{"domain":[0,634],"nice":false,"zero":false},"axis":null},"y":{"field":"y","type":"quantitative","scale":{"domain":[1534,1104],"nice":false,"zero":false},"axis":null},"text":{"field":"t"}}}
 ]
}
]
}
